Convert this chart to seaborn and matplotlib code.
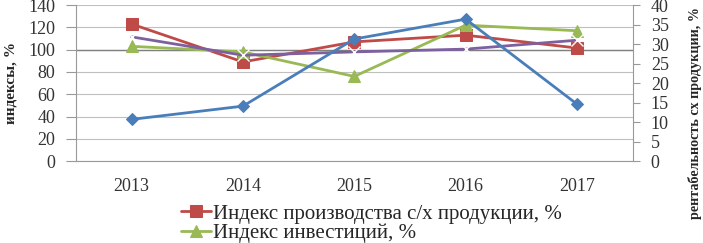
import numpy as np
import matplotlib
matplotlib.use("Agg")
import matplotlib.pyplot as plt
import seaborn as sns

years = ["2013", "2014", "2015", "2016", "2017"]
prod_index = [123, 89, 107, 113, 101.5]      # Индекс производства с/х продукции, %
invest_index = [103, 98, 76, 122, 117]       # Индекс инвестиций, %
other_index = [111.5, 95, 98, 100.5, 108.5]  # фиолетовая линия
profitability = [10.7, 14.1, 31.3, 36.4, 14.6]  # рентабельность, % (правая ось)

sns.set_style("white")
plt.rcParams['font.family'] = ['Liberation Serif', 'DejaVu Serif']

fig = plt.figure(figsize=(7.03, 2.43), dpi=100)
ax = fig.add_axes([0.108, 0.337, 0.792, 0.642])
x = np.arange(len(years))

sns.lineplot(x=x, y=prod_index, ax=ax, color="#BE4B48", marker="s", markersize=8,
             markeredgecolor="#BE4B48", linewidth=2, label="Индекс производства с/х продукции, %")
sns.lineplot(x=x, y=invest_index, ax=ax, color="#98B954", marker="^", markersize=8,
             markeredgecolor="#98B954", linewidth=2, label="Индекс инвестиций, %")
sns.lineplot(x=x, y=other_index, ax=ax, color="#7D60A0", marker="x", markersize=8,
             markeredgewidth=1, linewidth=2, label="_other")

ax.set_ylim(0, 140)
ax.set_yticks(range(0, 141, 20))
ax.set_xlim(-0.5, 4.5)
ax.set_xticks(x)
ax.set_xticklabels(years)
ax.set_xticks(np.arange(0.5, 4, 1), minor=True)
ax.tick_params(axis="x", which="major", length=0, pad=12, labelsize=13)
ax.tick_params(axis="x", which="minor", length=5, color="#999999", direction="out")
ax.tick_params(axis="y", length=7, color="#999999", direction="out", labelsize=13, pad=8)
for t in ax.get_yticklabels() + ax.get_xticklabels():
    t.set_color("#333333")
ax.grid(axis="y", color="#BFBFBF", linewidth=0.8)
ax.axhline(100, color="#7F7F7F", linewidth=1, zorder=1)
for s in ["top", "right"]:
    ax.spines[s].set_visible(False)
ax.spines["left"].set_color("#999999")
ax.spines["bottom"].set_color("#999999")
ax.set_ylabel("")
ax.legend_.remove()
fig.text(0.016, 0.66, "индексы, %", rotation=90, ha="center", va="center",
         fontsize=11, fontweight="bold")

ax2 = ax.twinx()
sns.lineplot(x=x, y=profitability, ax=ax2, color="#4A7EBB", marker="D", markersize=6,
             markeredgecolor="#4A7EBB", linewidth=2, label="_profit")
ax2.set_ylim(0, 40)
ax2.set_yticks(range(0, 41, 5))
ax2.tick_params(axis="y", length=5, color="#999999", direction="out", labelsize=13, pad=8)
for t in ax2.get_yticklabels():
    t.set_color("#333333")
for s in ["top", "left", "bottom"]:
    ax2.spines[s].set_visible(False)
ax2.spines["right"].set_color("#999999")
ax2.set_ylabel("")
if ax2.legend_:
    ax2.legend_.remove()
fig.text(0.988, 0.535, "рентабельность сх продукции, %", rotation=90, ha="center",
         va="center", fontsize=10.2, fontweight="bold")

h, l = ax.get_legend_handles_labels()
fig.legend(h[:2], l[:2], loc="upper left", bbox_to_anchor=(0.258, 0.16), frameon=False,
           fontsize=15, handlelength=1.4, handletextpad=0.1, labelspacing=0.0,
           borderaxespad=0, borderpad=0)

fig.savefig("out.png", dpi=100)
